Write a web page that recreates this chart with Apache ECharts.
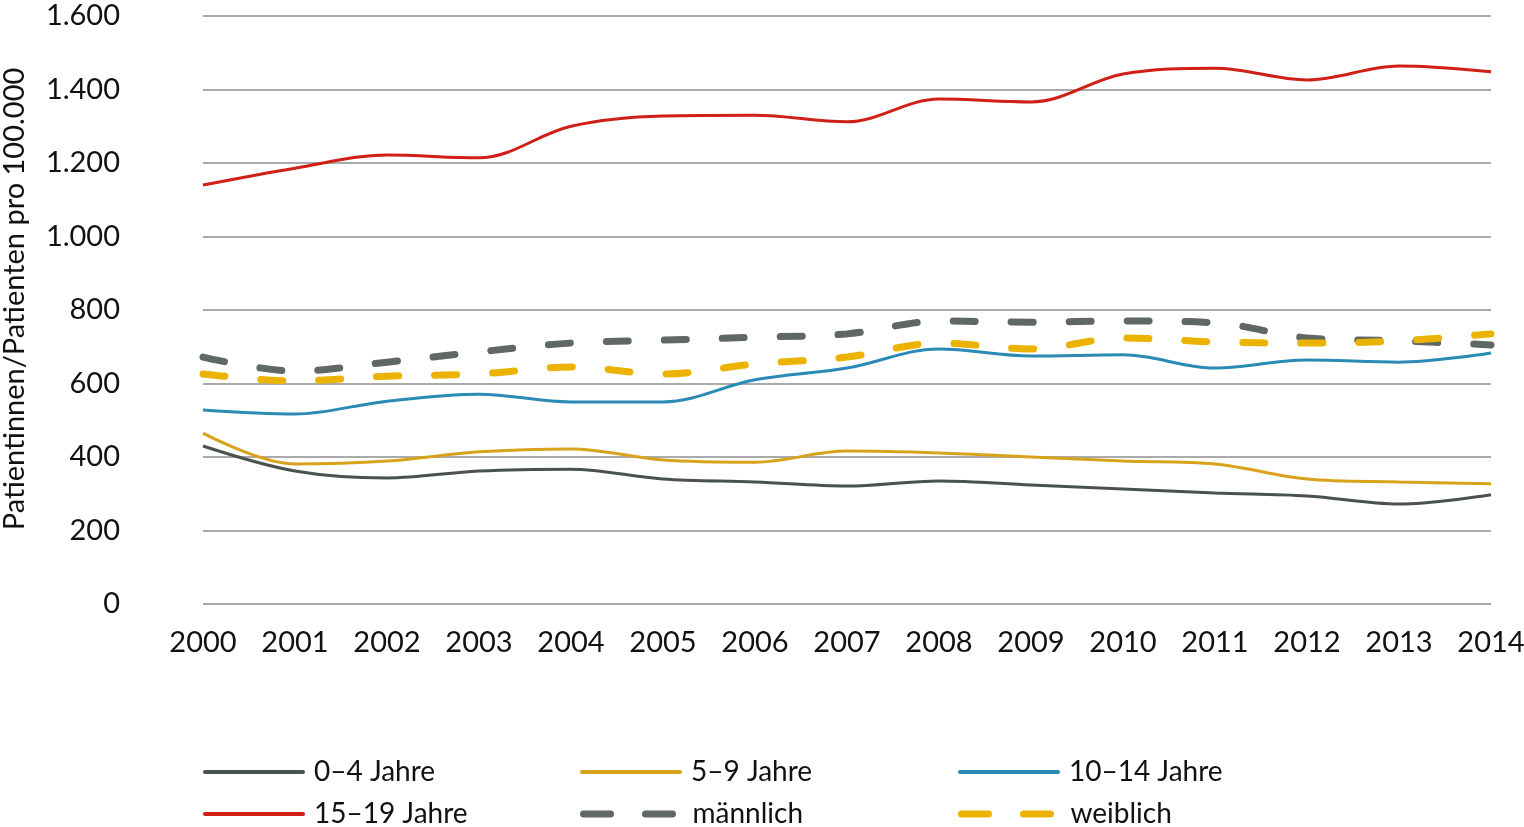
<!DOCTYPE html>
<html><head><meta charset="utf-8">
<script src="https://cdn.jsdelivr.net/npm/echarts@6/dist/echarts.min.js"></script>
<style>html,body{margin:0;padding:0;background:#fff}#c{width:1524px;height:827px}</style>
</head><body><div id="c"></div>
<script>
const years = ['2000','2001','2002','2003','2004','2005','2006','2007','2008','2009','2010','2011','2012','2013','2014'];
const yTicks = [0,200,400,600,800,1000,1200,1400,1600];
const age0_4   = [430,362,343,362,367,340,332,321,335,324,313,302,294,272,297];
const age5_9   = [465,381,389,414,422,392,386,416,411,400,389,381,340,332,327];
const age10_14 = [528,517,552,571,550,550,610,642,694,675,678,642,664,658,683];
const age15_19 = [1140,1186,1222,1214,1300,1328,1330,1312,1374,1366,1442,1458,1426,1464,1448];
const maennlich = [672,634,658,686,710,718,726,735,770,767,770,765,724,716,705];
const weiblich  = [626,607,620,626,645,626,653,672,710,694,724,713,710,716,735];

const FONT = 'Lato';
const C = {a:'#4a524d', b:'#d9a21b', c:'#2b8ab5', d:'#cf1f17', m:'#5f6862', w:'#ebb300'};
function fmt(v){ return String(v).replace(/\B(?=(\d{3})+(?!\d))/g,'.'); }
function solid(name, data, color){
  return {name, type:'line', data, smooth:0.35, symbol:'none',
    lineStyle:{color, width:3}, itemStyle:{color}};
}
function dashed(name, data, color){
  return {name, type:'line', data, smooth:0.35, symbol:'none',
    lineStyle:{color, width:7, type:[22,36], cap:'round'}, itemStyle:{color}};
}
function leg(name, left, top, color, isDash){
  return {left, top, padding:0, orient:'horizontal', itemWidth:98, itemHeight:20, itemGap:0,
    itemStyle:{opacity:0},
    lineStyle: isDash ? {color, width:7, type:[27,35], cap:'round'} : {color, width:4, cap:'round'},
    textStyle:{fontFamily:FONT, fontSize:28, color:'#111', padding:[0,0,0,6]},
    data:[{name}]};
}
const chart = echarts.init(document.getElementById('c'));
chart.setOption({
  animation:false,
  grid:{left:203, right:33, top:16, bottom:223, outerBoundsMode:'none', containLabel:false},
  legend:[
    leg('0–4 Jahre', 203, 758, C.a, false),
    leg('15–19 Jahre', 203, 800, C.d, false),
    leg('5–9 Jahre', 580, 758, C.b, false),
    leg('männlich', 580, 800, C.m, true),
    leg('10–14 Jahre', 958, 758, C.c, false),
    leg('weiblich', 958, 800, C.w, true)
  ],
  xAxis:{type:'category', data:years, boundaryGap:false,
    axisLine:{show:false}, axisTick:{show:false},
    axisLabel:{fontFamily:FONT, fontSize:29, color:'#111', margin:24}},
  yAxis:{type:'value', min:0, max:1600, interval:200,
    name:'Patientinnen/Patienten pro 100.000', nameLocation:'middle', nameGap:174,
    nameTextStyle:{fontFamily:FONT, fontSize:29, color:'#111', padding:[0,0,0,22]},
    axisLabel:{fontFamily:FONT, fontSize:29, color:'#111', margin:83, formatter:v=>fmt(v)},
    splitLine:{lineStyle:{color:'#aaaaaa', width:2}}},
  series:[
    solid('0–4 Jahre', age0_4, C.a),
    solid('5–9 Jahre', age5_9, C.b),
    solid('10–14 Jahre', age10_14, C.c),
    solid('15–19 Jahre', age15_19, C.d),
    dashed('männlich', maennlich, C.m),
    dashed('weiblich', weiblich, C.w)
  ]
});
</script></body></html>
